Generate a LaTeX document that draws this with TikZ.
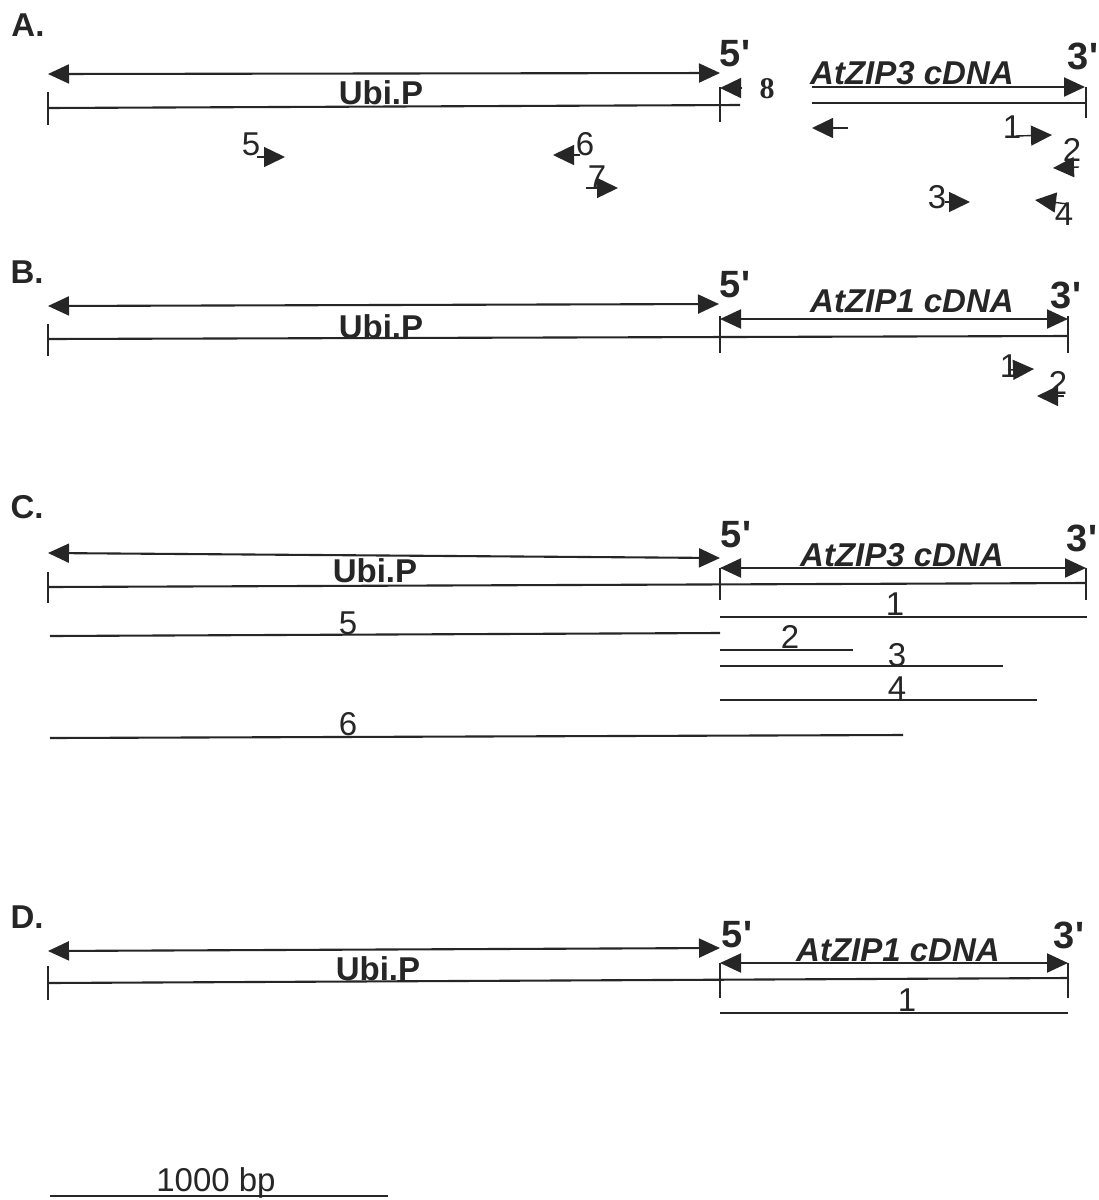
\documentclass[tikz,border=0pt]{standalone}
\usepackage{fontspec}
\setmainfont{Liberation Sans}
\newfontfamily\serifdigits{Liberation Serif}
\usetikzlibrary{arrows.meta}
\definecolor{ink}{HTML}{262626}

\tikzset{
  seg/.style={draw=ink, line width=2.1pt},
  span/.style={seg, {Triangle[length=21pt,width=19pt]}-{Triangle[length=21pt,width=19pt]}},
  fwdspan/.style={seg, -{Triangle[length=21pt,width=19pt]}},
  primer/.style={draw=ink, line width=1.4pt, -{Triangle[length=21pt,width=20pt]}},
  tickmark/.style={draw=ink, line width=2.1pt},
  num/.style={text=ink, inner sep=0pt, font=\fontsize{33}{33}\selectfont},
  serifnum/.style={text=ink, inner sep=0pt, font=\fontsize{30}{30}\selectfont\serifdigits\bfseries},
  boldlab/.style={text=ink, inner sep=0pt, font=\fontsize{33}{33}\selectfont\bfseries},
  genelab/.style={text=ink, inner sep=0pt, font=\fontsize{33}{33}\selectfont\bfseries\itshape},
  endlab/.style={text=ink, inner sep=0pt, font=\fontsize{38}{38}\selectfont\bfseries},
  panel/.style={text=ink, inner sep=0pt, font=\fontsize{33}{33}\selectfont\bfseries},
}

\begin{document}
\begin{tikzpicture}[x=1pt, y=-1pt]
\path[use as bounding box, fill=white] (0,0) rectangle (1099,1200);

% ---------------- Panel A ----------------
\node[panel] (pA) at (28,25) {A.};
\coordinate (aUl) at (48,74);
\coordinate (aUr) at (720,73);
\draw[span] (aUl) -- (aUr);
\coordinate (aBl) at (48,108);
\coordinate (aBr) at (740,105);
\draw[seg] (aBl) -- (aBr);
\coordinate (aT1a) at (48,92);  \coordinate (aT1b) at (48,125);
\coordinate (aT2a) at (720,87); \coordinate (aT2b) at (720,122);
\draw[tickmark] (aT1a) -- (aT1b);
\draw[tickmark] (aT2a) -- (aT2b);
\node[boldlab] (aUbi) at (381,93) {Ubi.P};
\node[endlab] (a5) at (735,54) {5\textquotesingle};
% primer 8
\coordinate (p8s) at (742,88); \coordinate (p8e) at (720,88);
\draw[primer] (p8s) -- (p8e);
\node[serifnum] (l8) at (767,89) {8};
% cDNA
\coordinate (aCl) at (812,87);
\coordinate (aCr) at (1085,87);
\draw[fwdspan] (aCl) -- (aCr);
\node[genelab] (aGene) at (912,73) {AtZIP3 cDNA};
\coordinate (aCBl) at (812,103);
\coordinate (aCBr) at (1086,103);
\draw[seg] (aCBl) -- (aCBr);
\coordinate (aT3a) at (1086,87); \coordinate (aT3b) at (1086,118);
\draw[tickmark] (aT3a) -- (aT3b);
\node[endlab] (a3) at (1083,56) {3\textquotesingle};
% primers
\coordinate (pLs) at (848,128); \coordinate (pLe) at (812,128);
\draw[primer] (pLs) -- (pLe);
\node[num] (l1) at (1012,127) {1};
\coordinate (p1s) at (1016,136); \coordinate (p1e) at (1052,135);
\draw[primer] (p1s) -- (p1e);
\node[num] (l2) at (1072,150) {2};
\coordinate (p2s) at (1079,167); \coordinate (p2e) at (1053,168);
\draw[primer] (p2s) -- (p2e);
\node[num] (l3) at (937,197) {3};
\coordinate (p3s) at (945,202); \coordinate (p3e) at (970,202);
\draw[primer] (p3s) -- (p3e);
\node[num] (l4) at (1064,214) {4};
\coordinate (p4s) at (1068,204); \coordinate (p4e) at (1035,200);
\draw[primer] (p4s) -- (p4e);
\node[num] (l5) at (251,144) {5};
\coordinate (p5s) at (257,157); \coordinate (p5e) at (285,157);
\draw[primer] (p5s) -- (p5e);
\node[num] (l6) at (585,144) {6};
\coordinate (p6s) at (580,155); \coordinate (p6e) at (553,155);
\draw[primer] (p6s) -- (p6e);
\node[num] (l7) at (597,177) {7};
\coordinate (p7s) at (586,188); \coordinate (p7e) at (618,188);
\draw[primer] (p7s) -- (p7e);

% ---------------- Panel B ----------------
\node[panel] (pB) at (27,272) {B.};
\coordinate (bUl) at (48,306);
\coordinate (bUr) at (719,304);
\draw[span] (bUl) -- (bUr);
\coordinate (bCl) at (720,319);
\coordinate (bCr) at (1068,319);
\draw[span] (bCl) -- (bCr);
\coordinate (bBl) at (48,339);
\coordinate (bBr) at (1068,336);
\draw[seg] (bBl) -- (bBr);
\coordinate (bT1a) at (48,324);  \coordinate (bT1b) at (48,356);
\coordinate (bT2a) at (720,316); \coordinate (bT2b) at (720,353);
\coordinate (bT3a) at (1068,316); \coordinate (bT3b) at (1068,353);
\draw[tickmark] (bT1a) -- (bT1b);
\draw[tickmark] (bT2a) -- (bT2b);
\draw[tickmark] (bT3a) -- (bT3b);
\node[boldlab] (bUbi) at (381,327) {Ubi.P};
\node[endlab] (b5) at (735,285) {5\textquotesingle};
\node[endlab] (b3) at (1066,295) {3\textquotesingle};
\node[genelab] (bGene) at (912,301) {AtZIP1 cDNA};
\node[num] (bl1) at (1009,366) {1};
\coordinate (bp1s) at (1008,370); \coordinate (bp1e) at (1034,369);
\draw[primer] (bp1s) -- (bp1e);
\node[num] (bl2) at (1058,383) {2};
\coordinate (bp2s) at (1064,396); \coordinate (bp2e) at (1037,396);
\draw[primer] (bp2s) -- (bp2e);

% ---------------- Panel C ----------------
\node[panel] (pC) at (27,507) {C.};
\coordinate (cUl) at (48,553);
\coordinate (cUr) at (720,558);
\draw[span] (cUl) -- (cUr);
\coordinate (cCl) at (720,568);
\coordinate (cCr) at (1086,568);
\draw[span] (cCl) -- (cCr);
\coordinate (cBl) at (48,587);
\coordinate (cBr) at (1086,583);
\draw[seg] (cBl) -- (cBr);
\coordinate (cT1a) at (48,572);  \coordinate (cT1b) at (48,603);
\coordinate (cT2a) at (720,568); \coordinate (cT2b) at (720,600);
\coordinate (cT3a) at (1086,568); \coordinate (cT3b) at (1086,600);
\draw[tickmark] (cT1a) -- (cT1b);
\draw[tickmark] (cT2a) -- (cT2b);
\draw[tickmark] (cT3a) -- (cT3b);
\node[boldlab] (cUbi) at (375,571) {Ubi.P};
\node[endlab] (c5) at (736,535) {5\textquotesingle};
\node[endlab] (c3) at (1082,538) {3\textquotesingle};
\node[genelab] (cGene) at (902,555) {AtZIP3 cDNA};
% transcripts
\coordinate (f1a) at (720,617); \coordinate (f1b) at (1087,617);
\draw[seg] (f1a) -- (f1b);
\node[num] (fl1) at (895,604) {1};
\coordinate (f5a) at (50,636); \coordinate (f5b) at (720,633);
\draw[seg] (f5a) -- (f5b);
\node[num] (fl5) at (348,623) {5};
\coordinate (f2a) at (720,650); \coordinate (f2b) at (853,650);
\draw[seg] (f2a) -- (f2b);
\node[num] (fl2) at (790,637) {2};
\coordinate (f3a) at (720,666); \coordinate (f3b) at (1003,666);
\draw[seg] (f3a) -- (f3b);
\node[num] (fl3) at (897,655) {3};
\coordinate (f4a) at (720,700); \coordinate (f4b) at (1037,700);
\draw[seg] (f4a) -- (f4b);
\node[num] (fl4) at (897,688) {4};
\coordinate (f6a) at (50,738); \coordinate (f6b) at (903,735);
\draw[seg] (f6a) -- (f6b);
\node[num] (fl6) at (348,724) {6};

% ---------------- Panel D ----------------
\node[panel] (pD) at (27,917) {D.};
\coordinate (dUl) at (48,951);
\coordinate (dUr) at (720,948);
\draw[span] (dUl) -- (dUr);
\coordinate (dCl) at (720,963);
\coordinate (dCr) at (1068,963);
\draw[span] (dCl) -- (dCr);
\coordinate (dBl) at (48,983);
\coordinate (dBr) at (1068,978);
\draw[seg] (dBl) -- (dBr);
\coordinate (dT1a) at (48,966);  \coordinate (dT1b) at (48,1000);
\coordinate (dT2a) at (720,963); \coordinate (dT2b) at (720,998);
\coordinate (dT3a) at (1068,963); \coordinate (dT3b) at (1068,998);
\draw[tickmark] (dT1a) -- (dT1b);
\draw[tickmark] (dT2a) -- (dT2b);
\draw[tickmark] (dT3a) -- (dT3b);
\node[boldlab] (dUbi) at (378,969) {Ubi.P};
\node[endlab] (d5) at (737,935) {5\textquotesingle};
\node[endlab] (d3) at (1069,935) {3\textquotesingle};
\node[genelab] (dGene) at (898,950) {AtZIP1 cDNA};
\coordinate (g1a) at (720,1013); \coordinate (g1b) at (1068,1013);
\draw[seg] (g1a) -- (g1b);
\node[num] (gl1) at (907,1000) {1};

% ---------------- Scale bar ----------------
\coordinate (sbl) at (50,1196); \coordinate (sbr) at (388,1196);
\draw[seg] (sbl) -- (sbr);
\node[num] (sblab) at (216,1183) {1000 bp};
\end{tikzpicture}
\end{document}
